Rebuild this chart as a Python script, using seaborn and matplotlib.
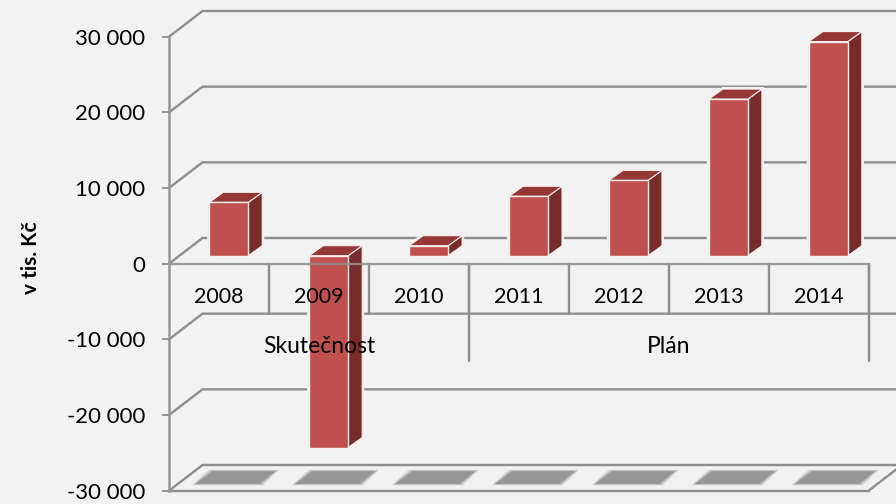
import matplotlib
matplotlib.use('Agg')
import matplotlib.pyplot as plt
import seaborn as sns
from matplotlib.patches import Polygon
from matplotlib.transforms import Affine2D, IdentityTransform

roky = ['2008', '2009', '2010', '2011', '2012', '2013', '2014']
hodnoty = [7050, -25350, 1320, 7850, 9950, 20700, 28300]
skupiny = ['Skutečnost', 'Plán']
skupiny_stred = [1, 4.5]
y_ticks = [-30000, -20000, -10000, 0, 10000, 20000, 30000]
y_labels = ['-30 000', '-20 000', '-10 000', '0', '10 000', '20 000', '30 000']

bg = '#F2F2F2'
seda = '#8E8E8E'
lw_cara = 1.7

sns.set_style('white')
plt.rcParams['font.family'] = ['Lato', 'DejaVu Sans']

fig = plt.figure(figsize=(8.96, 5.04), dpi=100, facecolor=bg)
ax = fig.add_axes([169 / 896, (504 - 490.7) / 504, 699.5 / 896, 454 / 504], facecolor='none')

sns.barplot(x=roky, y=hodnoty, color='#C0504D', saturation=1, width=0.39,
            edgecolor='#F7EDEC', linewidth=1, zorder=5, ax=ax)
ax.set_xlim(-0.5, 6.5)
ax.set_ylim(-30000, 30000)
fig.canvas.draw()

# posun predni steny sloupcu a hloubka 3D (v pixelech)
pos_x, pos_y = 9.8, 8
posun = Affine2D().translate(pos_x, pos_y)
hl_x, hl_y = 14, 10
pixely = IdentityTransform()
sloupce = list(ax.patches)
for p in sloupce:
    p.set_transform(ax.transData + posun)


def px(x, y, dx=0, dy=0):
    a, b = ax.transData.transform((x, y))
    return (a + dx, b + dy)


def poly(body, **kw):
    ax.add_patch(Polygon(body, closed=True, transform=pixely, clip_on=False, **kw))


# zadni stena a podlaha
zed_x, zed_y = 33.5, 25.7
for v in y_ticks:
    a = px(-0.5, v)
    b = px(-0.5, v, zed_x, zed_y)
    c = px(6.5, v, zed_x, zed_y)
    ax.plot([a[0], b[0], c[0]], [a[1], b[1], c[1]], color=seda, lw=lw_cara,
            transform=pixely, clip_on=False, zorder=1)
a = px(6.5, -30000)
b = px(6.5, -30000, zed_x, zed_y)
ax.plot([a[0], b[0]], [a[1], b[1]], color=seda, lw=lw_cara, transform=pixely, clip_on=False, zorder=1)

# predni cary a oddelovace kategorii
ax.plot([-0.5, 6.5], [0, 0], color=seda, lw=lw_cara, alpha=0.85, clip_on=False, zorder=6)
ax.plot([-0.5, 6.5], [-30000, -30000], color=seda, lw=lw_cara, clip_on=False, zorder=6)
for i in range(7):
    ax.plot([i + 0.5, i + 0.5], [0, -6600], color=seda, lw=lw_cara, clip_on=False, zorder=2)
for x in [2.5, 6.5]:
    ax.plot([x, x], [0, -12800], color=seda, lw=lw_cara, clip_on=False, zorder=2)

# stiny na podlaze, rozmazane vrstvami
for i in range(len(roky)):
    for roz, alfa in [(3.5, 0.2), (2, 0.3), (0.7, 0.5), (-0.7, 0.9)]:
        p1 = px(i, -30000, -24 - roz, 6.7 - roz * 0.4)
        p2 = px(i, -30000, 41 + roz, 6.7 - roz * 0.4)
        p3 = px(i, -30000, 57 + roz, 19.7 + roz * 0.4)
        p4 = px(i, -30000, -7 - roz, 19.7 + roz * 0.4)
        poly([p1, p2, p3, p4], facecolor='#949494', edgecolor='none', alpha=alfa, zorder=2)

# boky a vrchy sloupcu
for i, p in enumerate(sloupce):
    x0 = p.get_x()
    x1 = x0 + p.get_width()
    y0 = min(p.get_y(), p.get_y() + p.get_height())
    y1 = max(p.get_y(), p.get_y() + p.get_height())
    fl = px(x0, y1, pos_x, pos_y)
    fr = px(x1, y1, pos_x, pos_y)
    br = px(x1, y0, pos_x, pos_y)
    bl = px(x0, y0, pos_x, pos_y)
    tl = (fl[0] + hl_x, fl[1] + hl_y)
    tr = (fr[0] + hl_x, fr[1] + hl_y)
    dr = (br[0] + hl_x, br[1] + hl_y)
    # svetly lem, ktery prerusi mrizku kolem sloupce
    poly([bl, fl, tl, tr, dr, br], facecolor=bg, edgecolor=bg, lw=3, zorder=3)
    poly([fr, tr, dr, br], facecolor='#772C2A', edgecolor='#F7EDEC', lw=0.8, zorder=4)
    poly([fl, tl, tr, fr], facecolor='#943735', edgecolor='#F7EDEC', lw=0.8, zorder=4)

# popisky kategorii
for i, rok in enumerate(roky):
    ax.text(i, -4400, rok, ha='center', va='center', fontsize=15.5, color='black', zorder=10)
for x, s in zip(skupiny_stred, skupiny):
    ax.text(x, -10900, s, ha='center', va='center', fontsize=16.5, color='black', zorder=10)

ax.set_xticks([])
ax.set_yticks(y_ticks)
ax.set_yticklabels(y_labels, fontsize=16, color='black')
ax.tick_params(axis='y', left=True, length=5, width=1.3, color=seda, pad=12)
for s in ['top', 'right', 'bottom']:
    ax.spines[s].set_visible(False)
ax.spines['left'].set_color('#979797')
ax.spines['left'].set_linewidth(1.8)
ax.spines['left'].set_zorder(6)

ax.set_xlabel('')
ax.set_ylabel('v tis. Kč', fontsize=15, fontweight='bold', color='black')
ax.yaxis.set_label_coords(-0.1835, 0.5125)

fig.savefig('out.png', dpi=100, facecolor=bg)
